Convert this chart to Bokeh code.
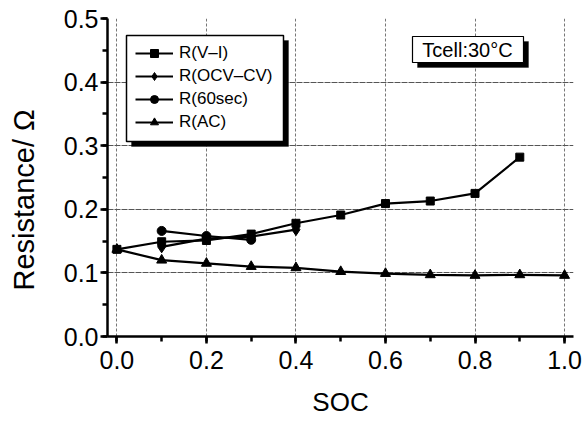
from bokeh.plotting import figure
from bokeh.models import (Range1d, Legend, LegendItem, Label, SingleIntervalTicker,
                          PrintfTickFormatter, BoxAnnotation, Title)
from bokeh.embed import file_html
from bokeh.resources import INLINE

# ---- data ----
soc_vi = [0.0, 0.1, 0.2, 0.3, 0.4, 0.5, 0.6, 0.7, 0.8, 0.9]
r_vi = [0.137, 0.149, 0.151, 0.161, 0.178, 0.191, 0.209, 0.213, 0.225, 0.282]

soc_ocv = [0.1, 0.2, 0.3, 0.4]
r_ocv = [0.141, 0.154, 0.157, 0.168]

soc_60 = [0.1, 0.2, 0.3]
r_60 = [0.166, 0.158, 0.152]

soc_ac = [0.0, 0.1, 0.2, 0.3, 0.4, 0.5, 0.6, 0.7, 0.8, 0.9, 1.0]
r_ac = [0.137, 0.120, 0.115, 0.110, 0.108, 0.102, 0.099, 0.097, 0.096, 0.097, 0.096]

series_names = ["R(V\u2013I)", "R(OCV\u2013CV)", "R(60sec)", "R(AC)"]
x_label = "SOC"
y_label = "Resistance/ \u03a9"
note_text = "Tcell:30\u00b0C"

FONT = "Liberation Sans"

p = figure(width=584, height=423, output_backend="svg", toolbar_location=None,
           x_range=Range1d(-0.021, 1.02), y_range=Range1d(0.0, 0.5),
           min_border_left=107, min_border_right=11, min_border_top=18,
           min_border_bottom=87)
p.outline_line_color = None
p.background_fill_color = "white"
p.border_fill_color = "white"

# axes
for ax in (p.xaxis[0], p.yaxis[0]):
    ax.axis_line_width = 2.5
    ax.axis_line_color = "black"
    ax.major_tick_line_width = 2.5
    ax.minor_tick_line_width = 2.5
    ax.major_tick_out = 7
    ax.major_tick_in = 0
    ax.minor_tick_out = 5
    ax.minor_tick_in = 0
    ax.major_label_text_font = FONT
    ax.major_label_text_font_size = "25px"
    ax.major_label_text_color = "black"
    ax.axis_label_text_font = FONT
    ax.axis_label_text_font_size = "26px"
    ax.axis_label_text_font_style = "normal"
    ax.axis_label_text_color = "black"
    ax.formatter = PrintfTickFormatter(format="%.1f")

p.xaxis.ticker = SingleIntervalTicker(interval=0.2, num_minor_ticks=2)
p.yaxis.ticker = SingleIntervalTicker(interval=0.1, num_minor_ticks=2)
p.xaxis.axis_label = x_label
p.xaxis.major_label_standoff = 7
p.yaxis.major_label_standoff = 2
p.xaxis.axis_label_standoff = 15
# blank spacer label widens the y-axis panel so the side title sits further left
p.yaxis.axis_label = " "
p.yaxis.axis_label_text_font_size = "12px"
p.yaxis.axis_label_standoff = 0

# y-axis title as a side title (sits a little below the axis centre)
ytitle = Title(text=y_label, align="left", offset=46, standoff=8,
               text_font=FONT, text_font_size="29px", text_font_style="normal",
               text_color="black")
p.add_layout(ytitle, "left")

# grids
p.xgrid.grid_line_color = "#777777"
p.xgrid.grid_line_dash = "3 2"
p.xgrid.grid_line_width = 1
p.ygrid.grid_line_color = "#555555"
p.ygrid.grid_line_dash = "6 1"
p.ygrid.grid_line_width = 1

LW = 2.2
l1 = p.line(soc_vi, r_vi, line_color="black", line_width=LW)
m1 = p.scatter(soc_vi, r_vi, marker="square", size=8, color="black")
l2 = p.line(soc_ocv, r_ocv, line_color="black", line_width=LW)
m2 = p.scatter(soc_ocv, r_ocv, marker="diamond", size=12, color="black")
l3 = p.line(soc_60, r_60, line_color="black", line_width=LW)
m3 = p.scatter(soc_60, r_60, marker="circle", size=9, color="black")
l4 = p.line(soc_ac, r_ac, line_color="black", line_width=LW)
m4 = p.scatter(soc_ac, r_ac, marker="triangle", size=10, color="black")

pairs = [(l1, m1), (l2, m2), (l3, m3), (l4, m4)]

# legend frame: drop shadow + white box (frame-relative screen pixels)
p.add_layout(BoxAnnotation(left=24, right=181, bottom=190, top=296,
                           left_units="screen", right_units="screen",
                           bottom_units="screen", top_units="screen",
                           fill_color="black", fill_alpha=1.0, line_color="black"))
p.add_layout(BoxAnnotation(left=19, right=176, bottom=195, top=301,
                           left_units="screen", right_units="screen",
                           bottom_units="screen", top_units="screen",
                           fill_color="white", fill_alpha=1.0, line_color="black",
                           line_width=1.5, line_alpha=1.0))

items = [LegendItem(label=n, renderers=list(r)) for n, r in zip(series_names, pairs)]
lg = Legend(items=items, location=(28, 204))
lg.background_fill_alpha = 0.0
lg.border_line_color = None
lg.label_text_font = FONT
lg.label_text_font_size = "17px"
lg.label_text_color = "black"
lg.glyph_width = 38
lg.glyph_height = 20
lg.label_height = 20
lg.label_standoff = 6
lg.spacing = 3
lg.padding = 0
lg.margin = 0
p.add_layout(lg, "center")

# temperature note box with shadow
p.add_layout(BoxAnnotation(left=310, right=421, bottom=269, top=295,
                           left_units="screen", right_units="screen",
                           bottom_units="screen", top_units="screen",
                           fill_color="black", fill_alpha=1.0, line_color="black"))
p.add_layout(BoxAnnotation(left=305, right=416, bottom=274, top=300,
                           left_units="screen", right_units="screen",
                           bottom_units="screen", top_units="screen",
                           fill_color="white", fill_alpha=1.0, line_color="black",
                           line_width=1.2, line_alpha=1.0))
p.add_layout(Label(x=360, y=287, x_units="screen", y_units="screen", text=note_text,
                   text_align="center", text_baseline="middle", text_font=FONT,
                   text_font_size="20px", text_color="black"))

open("out.html", "w").write(file_html(p, INLINE))
